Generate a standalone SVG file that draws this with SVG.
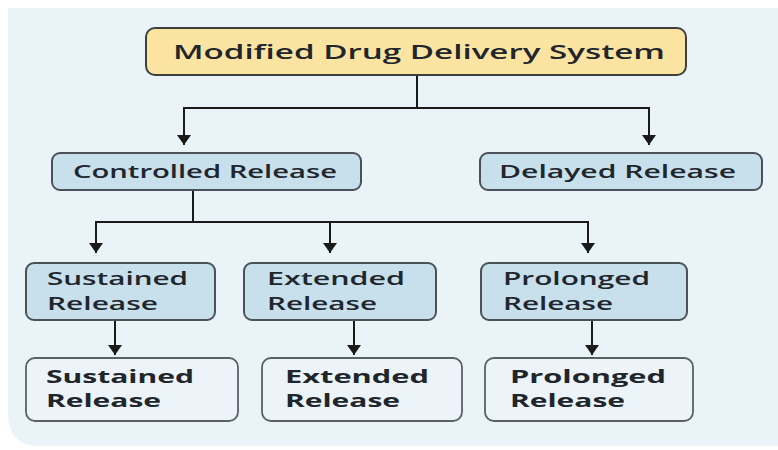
<svg xmlns="http://www.w3.org/2000/svg" width="778" height="450" viewBox="0 0 778 450">
<defs>
<style>
.bg{fill:#eaf3f8}
.top{fill:#fbe3a2;stroke:#3f3f3f;stroke-width:2}
.mid{fill:#c8dfec;stroke:#4a5258;stroke-width:2}
.low{fill:#edf4f9;stroke:#5a6066;stroke-width:1.8}
.t{font-family:"Open Sans","Noto Sans",sans-serif;fill:#20262b}
.tt{font-size:20px;font-weight:600}
.tm{font-size:18.5px;font-weight:600}
.tl{font-size:17.5px;font-weight:700}
.c{fill:none;stroke:#1a1a1a;stroke-width:2}
</style>
<marker id="ah" viewBox="0 0 10 14" refX="10" refY="7" markerWidth="10" markerHeight="14" markerUnits="userSpaceOnUse" orient="auto">
<path d="M0,0 L10,7 L0,14 Z" fill="#1a1a1a"/>
</marker>
</defs>
<rect width="778" height="450" fill="#ffffff"/>
<path class="bg" d="M8,8 H778 V446 H40 Q8,446 8,414 Z"/>
<g id="connectors">
<path class="c" d="M417,75 V108"/>
<path class="c" d="M184,108 H649"/>
<path class="c" d="M184,107 V145" marker-end="url(#ah)"/>
<path class="c" d="M649,107 V145" marker-end="url(#ah)"/>
<path class="c" d="M193,190 V222"/>
<path class="c" d="M96,222 H588"/>
<path class="c" d="M96,221 V253" marker-end="url(#ah)"/>
<path class="c" d="M330,222 V253" marker-end="url(#ah)"/>
<path class="c" d="M588,221 V253" marker-end="url(#ah)"/>
<path class="c" d="M115,320 V355" marker-end="url(#ah)"/>
<path class="c" d="M354,320 V355" marker-end="url(#ah)"/>
<path class="c" d="M592,320 V355" marker-end="url(#ah)"/>
</g>
<g id="n-mdds">
<rect class="top" x="146" y="28" width="540" height="47" rx="9"/>
<text class="t tt" x="173" y="59" textLength="492" lengthAdjust="spacingAndGlyphs">Modified Drug Delivery System</text>
</g>
<g id="n-controlled">
<rect class="mid" x="52" y="153" width="309" height="37" rx="8"/>
<text class="t tm" x="73" y="178" textLength="264" lengthAdjust="spacingAndGlyphs">Controlled Release</text>
</g>
<g id="n-delayed">
<rect class="mid" x="480" y="153" width="282" height="37" rx="8"/>
<text class="t tm" x="499" y="178" textLength="237" lengthAdjust="spacingAndGlyphs">Delayed Release</text>
</g>
<g id="n-sustained">
<rect class="mid" x="26" y="263" width="189" height="57" rx="8"/>
<text class="t tm" x="47" y="285" textLength="141" lengthAdjust="spacingAndGlyphs">Sustained</text>
<text class="t tm" x="47" y="310" textLength="111" lengthAdjust="spacingAndGlyphs">Release</text>
</g>
<g id="n-extended">
<rect class="mid" x="244" y="263" width="192" height="57" rx="8"/>
<text class="t tm" x="267" y="285" textLength="138" lengthAdjust="spacingAndGlyphs">Extended</text>
<text class="t tm" x="267" y="310" textLength="110" lengthAdjust="spacingAndGlyphs">Release</text>
</g>
<g id="n-prolonged">
<rect class="mid" x="481" y="263" width="206" height="57" rx="8"/>
<text class="t tm" x="503" y="285" textLength="147" lengthAdjust="spacingAndGlyphs">Prolonged</text>
<text class="t tm" x="503" y="310" textLength="110" lengthAdjust="spacingAndGlyphs">Release</text>
</g>
<g id="n-sustained2">
<rect class="low" x="26" y="358" width="212" height="63" rx="9"/>
<text class="t tl" x="46" y="383" textLength="148" lengthAdjust="spacingAndGlyphs">Sustained</text>
<text class="t tl" x="46" y="407" textLength="115" lengthAdjust="spacingAndGlyphs">Release</text>
</g>
<g id="n-extended2">
<rect class="low" x="262" y="358" width="200" height="63" rx="9"/>
<text class="t tl" x="285" y="383" textLength="144" lengthAdjust="spacingAndGlyphs">Extended</text>
<text class="t tl" x="285" y="407" textLength="115" lengthAdjust="spacingAndGlyphs">Release</text>
</g>
<g id="n-prolonged2">
<rect class="low" x="485" y="358" width="208" height="63" rx="9"/>
<text class="t tl" x="510" y="383" textLength="156" lengthAdjust="spacingAndGlyphs">Prolonged</text>
<text class="t tl" x="510" y="407" textLength="115" lengthAdjust="spacingAndGlyphs">Release</text>
</g>
</svg>
